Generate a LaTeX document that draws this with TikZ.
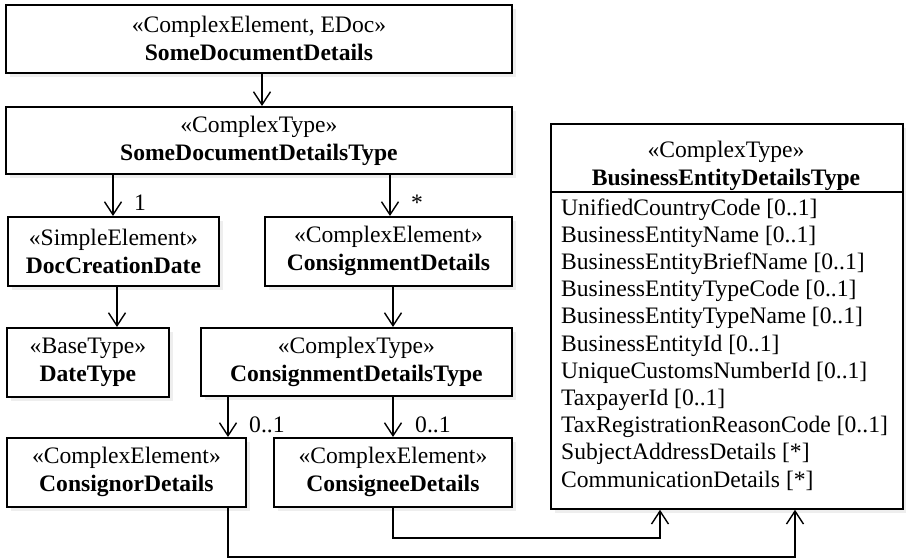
\documentclass[tikz,border=0pt]{standalone}
\usepackage{fontspec}
\setmainfont{Liberation Serif}
\usetikzlibrary{arrows.meta,shadows}
\newcommand\umlfont{\fontsize{23.6}{28}\selectfont}

\begin{document}
\begin{tikzpicture}[x=1pt,y=-1pt,
  box/.style={draw, line width=1.8pt, fill=white, anchor=north west,
    inner sep=0pt, align=center, font=\umlfont,
    drop shadow={shadow xshift=4pt, shadow yshift=-4pt, fill=black!13}},
  link/.style={line width=1.4pt,
    -{Straight Barb[length=13pt,width=17pt,line width=1.4pt]}},
  mult/.style={font=\umlfont, inner sep=0pt, anchor=base west},
  attr/.style={font=\umlfont, inner sep=0pt, anchor=base west}]
\useasboundingbox (0,0) rectangle (906,559);

% class boxes
\node[box, minimum width=506pt, minimum height=68pt] (sdd) at (5,4)
  {«ComplexElement, EDoc»\\\textbf{SomeDocumentDetails}};
\node[box, minimum width=506pt, minimum height=67pt] (sdt) at (5,106)
  {«ComplexType»\\\textbf{SomeDocumentDetailsType}};
\node[box, minimum width=211pt, minimum height=69pt] (dcd) at (7,216)
  {«SimpleElement»\\\textbf{DocCreationDate}};
\node[box, minimum width=247pt, minimum height=69pt] (cd) at (264,216)
  {«ComplexElement»\\\textbf{ConsignmentDetails}};
\node[box, minimum width=162pt, minimum height=69pt] (dt) at (6,327)
  {«BaseType»\\\textbf{DateType}};
\node[box, minimum width=311pt, minimum height=68pt] (cdt) at (200,327)
  {«ComplexType»\\\textbf{ConsignmentDetailsType}};
\node[box, minimum width=239pt, minimum height=69pt] (cor) at (6,437)
  {«ComplexElement»\\\textbf{ConsignorDetails}};
\node[box, minimum width=238pt, minimum height=69pt] (cee) at (273,437)
  {«ComplexElement»\\\textbf{ConsigneeDetails}};

% class with attribute compartment
\node[box, minimum width=352pt, minimum height=385pt] (bed) at (550,123) {};
\draw[line width=1.8pt] (bed.west |- 0,192) -- (bed.east |- 0,192);
\node[font=\umlfont, align=center, inner sep=0pt] (bedhead) at (726,166)
  {«ComplexType»\\\textbf{BusinessEntityDetailsType}};
\foreach \a [count=\i from 0] in {
    UnifiedCountryCode [0..1],
    BusinessEntityName [0..1],
    BusinessEntityBriefName [0..1],
    BusinessEntityTypeCode [0..1],
    BusinessEntityTypeName [0..1],
    BusinessEntityId [0..1],
    UniqueCustomsNumberId [0..1],
    TaxpayerId [0..1],
    TaxRegistrationReasonCode [0..1],
    SubjectAddressDetails [*],
    CommunicationDetails [*]}
  \node[attr] (attr\i) at (561,215+27.2*\i) {\a};

% associations
\draw[link] (262,0 |- sdd.south) -- (262,0 |- sdt.north);
\draw[link] (113,0 |- sdt.south) -- (113,0 |- dcd.north);
\draw[link] (390,0 |- sdt.south) -- (390,0 |- cd.north);
\draw[link] (117,0 |- dcd.south) -- (117,0 |- dt.north);
\draw[link] (393,0 |- cd.south) -- (393,0 |- cdt.north);
\draw[link] (228,0 |- cdt.south) -- (228,0 |- cor.north);
\draw[link] (393,0 |- cdt.south) -- (393,0 |- cee.north);

\coordinate (busA) at (500,557);
\coordinate (busB) at (500,538);
\draw[link] (228,0 |- cor.south) |- (busA) -| (795,0 |- bed.south);
\draw[link] (393,0 |- cee.south) |- (busB) -| (660,0 |- bed.south);

% multiplicities
\node[mult] (m1) at (134,211) {1};
\node[mult] (m2) at (411,211) {*};
\node[mult] (m3) at (249,432) {0..1};
\node[mult] (m4) at (415,432) {0..1};
\end{tikzpicture}
\end{document}
